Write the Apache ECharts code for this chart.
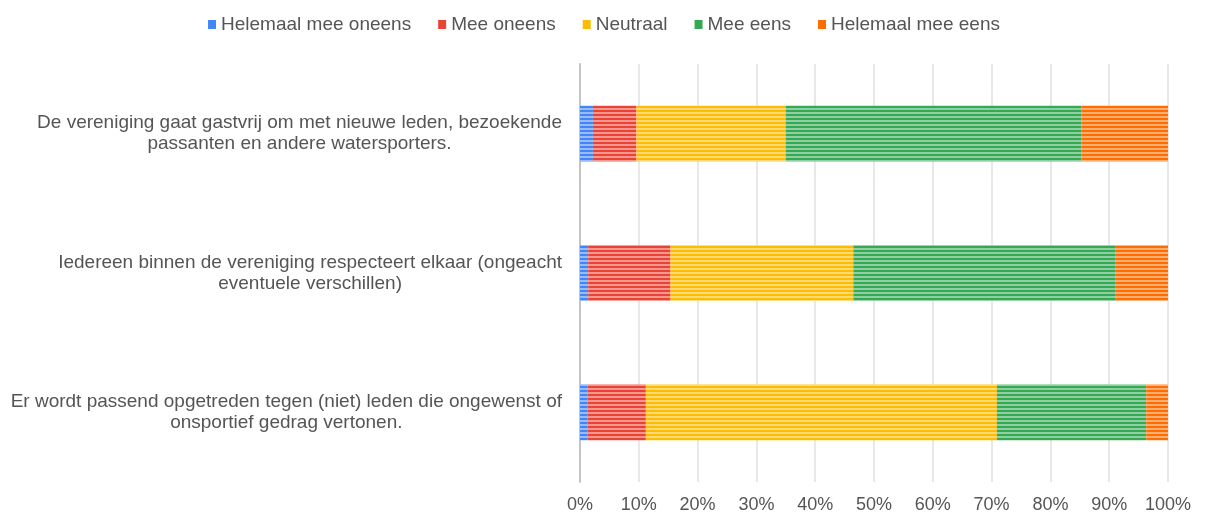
<!DOCTYPE html>
<html>
<head>
<meta charset="utf-8">
<script src="https://cdn.jsdelivr.net/npm/echarts@6/dist/echarts.min.js"></script>
<style>
  html, body { margin: 0; padding: 0; background: #fff; }
  #main { width: 1208px; height: 518px; }
</style>
</head>
<body>
<div id="main"></div>
<script>
var categories = [
  'Er wordt passend opgetreden tegen (niet) leden die ongewenst of\nonsportief gedrag vertonen.',
  'Iedereen binnen de vereniging respecteert elkaar (ongeacht\neventuele verschillen)',
  'De vereniging gaat gastvrij om met nieuwe leden, bezoekende\npassanten en andere watersporters.'
];
var seriesNames = ['Helemaal mee oneens', 'Mee oneens', 'Neutraal', 'Mee eens', 'Helemaal mee eens'];
var colors = ['#4285f4', '#ea4335', '#fbbc04', '#34a853', '#ff6d01'];

// percentages, bottom -> top
var helemaalOneens = [1.3, 1.4, 2.2];
var meeOneens = [9.9, 14.0, 7.4];
var neutraal = [59.7, 31.1, 25.4];
var meeEens = [25.4, 44.5, 50.3];
var helemaalEens = [3.7, 9.0, 14.7];

var ticks = [0, 10, 20, 30, 40, 50, 60, 70, 80, 90, 100];

var values = [helemaalOneens, meeOneens, neutraal, meeEens, helemaalEens];

var myChart = echarts.init(document.getElementById('main'));

var series = seriesNames.map(function (name, i) {
  return {
    name: name,
    type: 'bar',
    stack: 'total',
    barWidth: '40%',
    itemStyle: {
      color: colors[i],
      decal: {
        symbol: 'rect',
        symbolSize: 1,
        dashArrayX: [1, 0],
        dashArrayY: [2, 1.5],
        rotation: 0,
        color: 'rgba(255,255,255,0.45)'
      }
    },
    data: values[i]
  };
});

option = {
  animation: false,
  textStyle: { fontFamily: 'Liberation Sans, Arial, sans-serif' },
  legend: {
    top: 10,
    left: 'center',
    itemWidth: 8,
    itemHeight: 9,
    itemGap: 27,
    icon: 'rect',
    itemStyle: { decal: 'none' },
    textStyle: { fontSize: 19, color: '#555' },
    data: seriesNames
  },
  grid: { left: 580, right: 40, top: 64, bottom: 36 },
  xAxis: {
    type: 'value',
    min: 0,
    max: 100,
    interval: 10,
    axisLine: { show: false },
    axisTick: { show: false },
    splitLine: { lineStyle: { color: '#e0e0e0', width: 1.5 } },
    axisLabel: {
      fontSize: 18,
      color: '#555',
      margin: 14,
      formatter: function (v) { return ticks.indexOf(v) >= 0 ? v + '%' : ''; }
    }
  },
  yAxis: {
    type: 'category',
    data: categories,
    axisLine: { show: true, lineStyle: { color: '#c4c4c4', width: 2 } },
    axisTick: { show: false },
    axisLabel: {
      margin: 18,
      fontSize: 19,
      color: '#555',
      lineHeight: 21,
      formatter: function (v) {
        return v.split('\n').map(function (l) { return '{c|' + l + '}'; }).join('\n');
      },
      rich: { c: { align: 'center', fontSize: 19, color: '#555', lineHeight: 21 } }
    }
  },
  series: series
};

myChart.setOption(option);
</script>
</body>
</html>
